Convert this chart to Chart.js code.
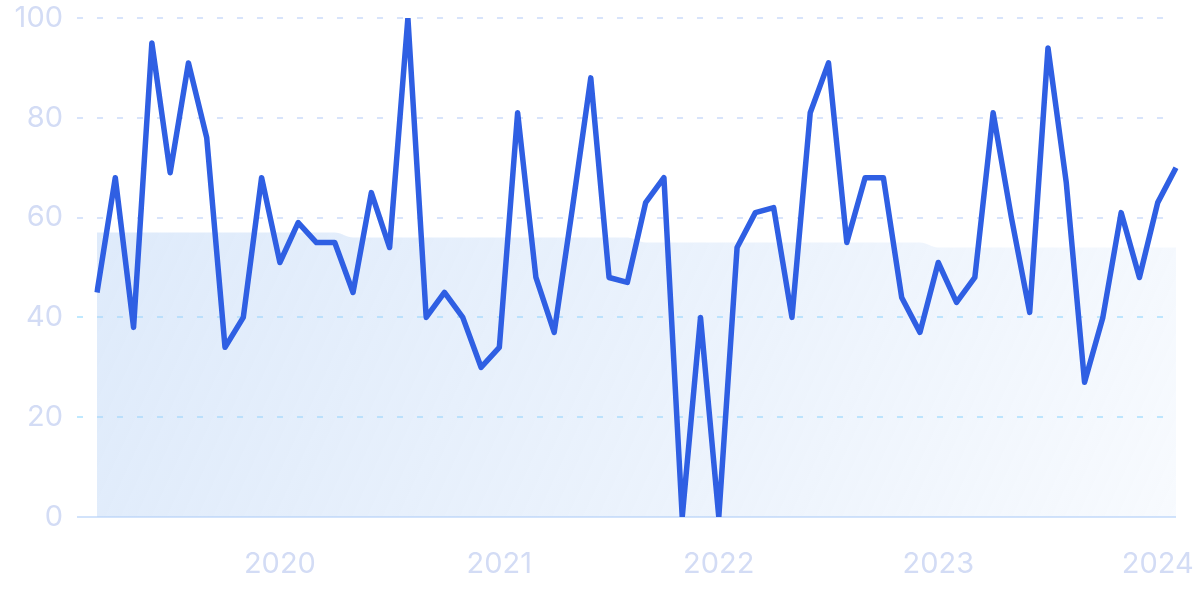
<!DOCTYPE html>
<html>
<head>
<meta charset="utf-8">
<script src="https://cdn.jsdelivr.net/npm/chart.js@4/dist/chart.umd.min.js"></script>
<style>
  html, body { margin: 0; padding: 0; background: #fff; }
  #wrap { width: 1200px; height: 599px; }
</style>
</head>
<body>
<div id="wrap"><canvas id="chart"></canvas></div>
<script>
// monthly points, Mar 2019 .. Feb 2024
const months = [
  "2019-03", "2019-04", "2019-05", "2019-06", "2019-07", "2019-08", "2019-09", "2019-10", "2019-11", "2019-12",
  "2020-01", "2020-02", "2020-03", "2020-04", "2020-05", "2020-06", "2020-07", "2020-08", "2020-09", "2020-10", "2020-11", "2020-12",
  "2021-01", "2021-02", "2021-03", "2021-04", "2021-05", "2021-06", "2021-07", "2021-08", "2021-09", "2021-10", "2021-11", "2021-12",
  "2022-01", "2022-02", "2022-03", "2022-04", "2022-05", "2022-06", "2022-07", "2022-08", "2022-09", "2022-10", "2022-11", "2022-12",
  "2023-01", "2023-02", "2023-03", "2023-04", "2023-05", "2023-06", "2023-07", "2023-08", "2023-09", "2023-10", "2023-11", "2023-12",
  "2024-01", "2024-02"
];

const interest = [
  45, 68, 38, 95, 69, 91, 76, 34, 40, 68,
  51, 59, 55, 55, 45, 65, 54, 100, 40, 45, 40, 30,
  34, 81, 48, 37, 62, 88, 48, 47, 63, 68, 0, 40,
  0, 54, 61, 62, 40, 81, 91, 55, 68, 68, 44, 37,
  51, 43, 48, 81, 60, 41, 94, 67, 27, 40, 61, 48,
  63, 70
];

const average = [
  57, 57, 57, 57, 57, 57, 57, 57, 57, 57,
  57, 57, 57, 57, 56, 56, 56, 56, 56, 56, 56, 56,
  56, 56, 56, 56, 56, 56, 56, 56, 55, 55, 55, 55,
  55, 55, 55, 55, 55, 55, 55, 55, 55, 55, 55, 55,
  54, 54, 54, 54, 54, 54, 54, 54, 54, 54, 54, 54,
  54, 54
];

const yTicks = [0, 20, 40, 60, 80, 100];

const labelColor = "#d3dcf5";

function areaGradient(context) {
  const area = context.chart.chartArea;
  if (!area) return "rgba(180,208,245,0.3)";
  const g = context.chart.ctx.createLinearGradient(area.left, area.top, area.right, area.bottom);
  g.addColorStop(0, "rgba(180,208,245,0.46)");
  g.addColorStop(0.6, "rgba(180,208,245,0.26)");
  g.addColorStop(1, "rgba(180,208,245,0.1)");
  return g;
}

// drop the automatic label overflow padding so the plot area sits where the reference has it
function noPadding(scale) {
  scale.paddingTop = 0;
  scale.paddingBottom = 0;
  scale.paddingLeft = 0;
  scale.paddingRight = 0;
}

function isZero(ctx) {
  return ctx.tick && ctx.tick.value === 0;
}

new Chart(document.getElementById("chart"), {
  type: "line",
  data: {
    labels: months,
    datasets: [
      {
        label: "Interest",
        data: interest,
        borderColor: "#2f5fe3",
        borderWidth: 5.5,
        borderJoinStyle: "round",
        borderCapStyle: "butt",
        pointRadius: 0,
        tension: 0,
        fill: false
      },
      {
        label: "Average",
        data: average,
        borderWidth: 0,
        borderColor: "transparent",
        backgroundColor: areaGradient,
        pointRadius: 0,
        cubicInterpolationMode: "monotone",
        fill: "origin"
      }
    ]
  },
  options: {
    responsive: true,
    maintainAspectRatio: false,
    animation: false,
    layout: { autoPadding: false, padding: { top: 18, right: 24, left: 0, bottom: 0 } },
    plugins: {
      legend: { display: false },
      tooltip: { enabled: false }
    },
    scales: {
      x: {
        grid: { display: false, drawTicks: false },
        border: { display: false },
        ticks: {
          autoSkip: false,
          maxRotation: 0,
          padding: 30,
          color: labelColor,
          font: { family: "Inter", size: 29 },
          callback: function (value, index) {
            const m = months[index];
            return m.endsWith("-01") ? m.slice(0, 4) : "";
          }
        },
        afterFit: function (scale) { scale.height = 82; noPadding(scale); }
      },
      y: {
        min: 0,
        max: 100,
        afterBuildTicks: function (scale) {
          scale.ticks = yTicks.map(v => ({ value: v }));
        },
        border: {
          display: false,
          dash: function (ctx) { return isZero(ctx) ? [] : [6, 14]; }
        },
        grid: {
          drawTicks: true,
          tickLength: 20,
          tickBorderDash: function (ctx) { return isZero(ctx) ? [] : [6, 14]; },
          lineWidth: function (ctx) { return isZero(ctx) ? 2 : 2; },
          color: function (ctx) {
            if (isZero(ctx)) return "#d2e3fb";
            return ctx.tick && ctx.tick.value <= 40 ? "#bfe9ff" : "#d8e4fb";
          }
        },
        ticks: {
          padding: 14,
          color: labelColor,
          font: { family: "Inter", size: 29 }
        },
        afterFit: function (scale) { scale.width = 97; noPadding(scale); }
      }
    }
  }
});
</script>
</body>
</html>
